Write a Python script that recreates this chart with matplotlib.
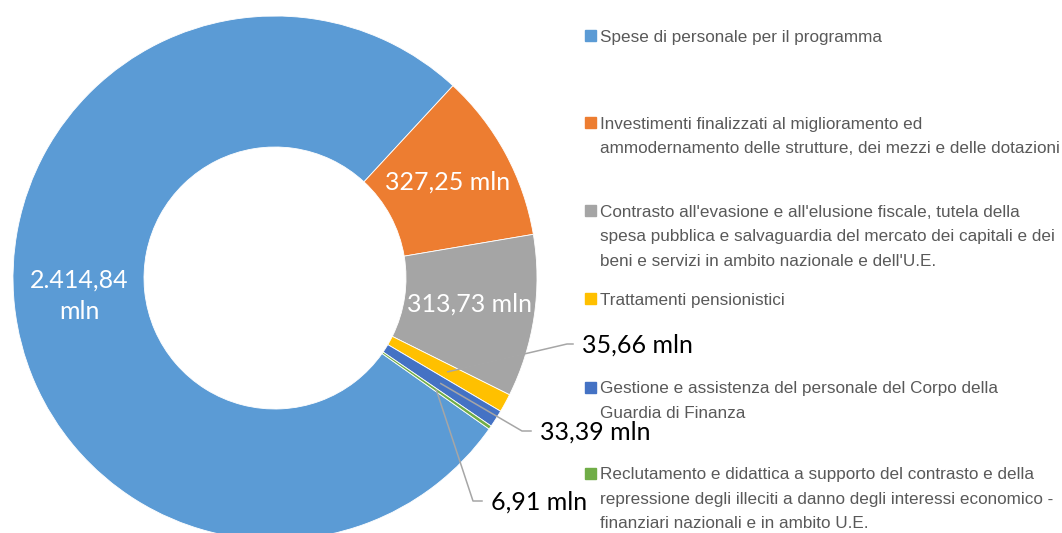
import numpy as np
import matplotlib.pyplot as plt
from matplotlib.patches import Rectangle

# dati (milioni di euro)
programmi = [
    'Spese di personale per il programma',
    'Investimenti finalizzati al miglioramento ed\nammodernamento delle strutture, dei mezzi e delle dotazioni',
    "Contrasto all'evasione e all'elusione fiscale, tutela della\nspesa pubblica e salvaguardia del mercato dei capitali e dei\nbeni e servizi in ambito nazionale e dell'U.E.",
    'Trattamenti pensionistici',
    'Gestione e assistenza del personale del Corpo della\nGuardia di Finanza',
    'Reclutamento e didattica a supporto del contrasto e della\nrepressione degli illeciti a danno degli interessi economico -\nfinanziari nazionali e in ambito U.E.',
]
valori = [2414.84, 327.25, 313.73, 35.66, 33.39, 6.91]
etichette = ['2.414,84\nmln', '327,25 mln', '313,73 mln', '35,66 mln', '33,39 mln', '6,91 mln']
colori = ['#5B9BD5', '#ED7D31', '#A5A5A5', '#FFC000', '#4472C4', '#70AD47']

W, H = 1062, 533
fig = plt.figure(figsize=(W / 100, H / 100), dpi=100)

# ciambella: centro (275, 278) px, raggio 262 px (tagliata in basso come nell'originale)
cx, cy, R = 275, 278, 262
ax = fig.add_axes([(cx - R) / W, (H - cy - R) / H, 2 * R / W, 2 * R / H])

# primo settore a 125.2 gradi in senso orario dalle ore 12 (come Excel)
wedges, _ = ax.pie(valori, colors=colori, startangle=90 - 125.2, counterclock=False,
                   radius=1, wedgeprops=dict(width=0.5, edgecolor='white', linewidth=0.6))
ax.set_aspect('auto')
ax.set_xlim(-1, 1)
ax.set_ylim(-1, 1)
ax.axis('off')

font_lab = ['Lato', 'DejaVu Sans']

def mid(w):
    return np.deg2rad((w.theta1 + w.theta2) / 2)

# etichette interne (bianche) per i settori grandi
for i in range(3):
    a = mid(wedges[i])
    ax.text(0.75 * np.cos(a), 0.75 * np.sin(a) + 0.01, etichette[i], color='white',
            ha='center', va='center', fontsize=18, family=font_lab, linespacing=1.45)

# etichette esterne con linee guida (posizioni in pixel: testo x, linea di base, gomito x)
pos_testo = {3: (582, 353, 567), 4: (540, 440, 522), 5: (491, 510, 473)}

def px(x, y):
    return (x - cx) / R, (cy - y) / R

for i, (tx, base, ex) in pos_testo.items():
    a = mid(wedges[i])
    x0, y0 = 0.75 * np.cos(a), 0.75 * np.sin(a)
    x1, y1 = px(ex, base - 9)
    x2, y2 = px(tx - 9, base - 9)
    ax.plot([x0, x1, x2], [y0, y1, y2], color='#A6A6A6', lw=1.1, clip_on=False)
    xt, yt = px(tx, base)
    ax.text(xt, yt, etichette[i], color='black', ha='left', va='baseline',
            fontsize=18, family=font_lab, clip_on=False)

# legenda manuale a destra
font_leg = ['Liberation Sans', 'DejaVu Sans']
y_marker = [35.5, 122.5, 210.5, 298, 387, 473]
for lab, col, ym in zip(programmi, colori, y_marker):
    fig.patches.append(Rectangle((585 / W, 1 - (ym + 5.5) / H), 11 / W, 11 / H,
                                 transform=fig.transFigure, color=col))
    for k, riga in enumerate(lab.split('\n')):
        fig.text(600 / W, 1 - (ym + 6.5 + 24.3 * k) / H, riga, ha='left', va='baseline',
                 color='#595959', fontsize=12.3, family=font_leg)

fig.savefig('out.png', dpi=100)
